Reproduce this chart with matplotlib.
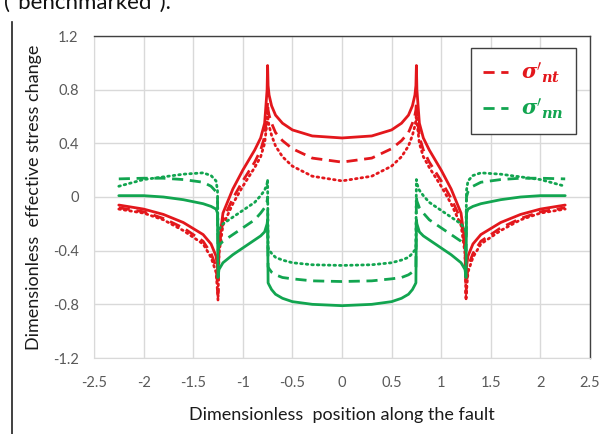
import matplotlib
matplotlib.use("Agg")
import matplotlib.pyplot as plt
from matplotlib.lines import Line2D
import numpy as np

# half profile (x >= 0); the curves are symmetric about x = 0
x_half = [0.0, 0.3, 0.5, 0.6, 0.67, 0.71, 0.735, 0.745, 0.75, 0.755, 0.78, 0.82, 0.88,
          1.0, 1.1, 1.2, 1.24, 1.25, 1.255, 1.27, 1.32, 1.4, 1.6, 1.8, 2.0, 2.25]

nt_solid = [0.44, 0.455, 0.50, 0.55, 0.61, 0.68, 0.76, 0.83, 0.98, 0.80, 0.55, 0.44, 0.35,
            0.20, 0.06, -0.12, -0.35, -0.60, -0.52, -0.44, -0.35, -0.28, -0.19, -0.13, -0.09, -0.06]
nt_dash = [0.26, 0.29, 0.36, 0.42, 0.48, 0.55, 0.61, 0.65, 0.71, 0.62, 0.45, 0.35, 0.26,
           0.12, -0.01, -0.17, -0.38, -0.72, -0.65, -0.52, -0.42, -0.33, -0.23, -0.16, -0.11, -0.08]
nt_dot = [0.12, 0.155, 0.23, 0.30, 0.38, 0.46, 0.53, 0.57, 0.63, 0.56, 0.40, 0.30, 0.22,
          0.08, -0.05, -0.21, -0.42, -0.77, -0.70, -0.56, -0.45, -0.35, -0.25, -0.17, -0.12, -0.09]

nn_solid = [-0.81, -0.80, -0.78, -0.755, -0.725, -0.69, -0.655, -0.64, -0.17, -0.20, -0.26, -0.29, -0.32,
            -0.38, -0.43, -0.49, -0.54, -0.60, -0.12, -0.09, -0.07, -0.05, -0.02, 0.0, 0.01, 0.01]
nn_dash = [-0.63, -0.625, -0.61, -0.60, -0.58, -0.56, -0.535, -0.52, 0.0, -0.03, -0.08, -0.12, -0.17,
           -0.23, -0.28, -0.33, -0.36, -0.40, 0.0, 0.04, 0.08, 0.11, 0.13, 0.14, 0.14, 0.135]
nn_dot = [-0.51, -0.505, -0.49, -0.47, -0.45, -0.42, -0.395, -0.38, 0.13, 0.10, 0.05, 0.01, -0.04,
          -0.10, -0.15, -0.20, -0.24, -0.28, 0.05, 0.12, 0.16, 0.18, 0.17, 0.15, 0.13, 0.08]

RED = "#e3171c"
GREEN = "#12a550"
DASH = (0, (4, 2.4))
DOT = (0, (0.6, 1.4))


def mirror(xh, yh):
    xh = np.asarray(xh)
    yh = np.asarray(yh)
    x = np.concatenate([-xh[::-1], xh[1:]])
    y = np.concatenate([yh[::-1], yh[1:]])
    return x, y


plt.rcParams["font.family"] = ["Lato", "DejaVu Sans"]
plt.rcParams["mathtext.fontset"] = "dejavuserif"

fig = plt.figure(figsize=(6.07, 4.34), dpi=100)
W, H = 607, 434
ax = fig.add_axes([94 / W, 1 - 358 / H, (590 - 94) / W, (358 - 36) / H])

styles = [
    (nt_solid, RED, "-"), (nt_dash, RED, DASH), (nt_dot, RED, DOT),
    (nn_solid, GREEN, "-"), (nn_dash, GREEN, DASH), (nn_dot, GREEN, DOT),
]
for yh, col, ls in styles:
    x, y = mirror(x_half, yh)
    ax.plot(x, y, color=col, linestyle=ls, linewidth=2.0, solid_capstyle="round",
            dash_capstyle="round" if ls is DOT else "butt")

ax.set_xlim(-2.5, 2.5)
ax.set_ylim(-1.2, 1.2)
ax.set_xticks(np.arange(-2.5, 2.51, 0.5))
ax.set_xticklabels(["-2.5", "-2", "-1.5", "-1", "-0.5", "0", "0.5", "1", "1.5", "2", "2.5"])
ax.set_yticks(np.arange(-1.2, 1.21, 0.4))
ax.set_yticklabels(["-1.2", "-0.8", "-0.4", "0", "0.4", "0.8", "1.2"])
ax.tick_params(length=0, labelsize=10.5, labelcolor="#595959")
ax.tick_params(axis="x", pad=13)
ax.tick_params(axis="y", pad=11)
ax.grid(True, color="#d9d9d9", linewidth=1.0)
ax.set_axisbelow(True)
for side in ["left", "bottom"]:
    ax.spines[side].set_color("#d9d9d9")
for side in ["top", "right"]:
    ax.spines[side].set_color("#404040")
    ax.spines[side].set_linewidth(1.0)

ax.set_xlabel("Dimensionless  position along the fault", fontsize=13, color="#1a1a1a", labelpad=12)
ax.set_ylabel("Dimensionless  effective stress change", fontsize=13, color="#1a1a1a", labelpad=8)

handles = [Line2D([], [], color=RED, linestyle=DASH, linewidth=2.0),
           Line2D([], [], color=GREEN, linestyle=DASH, linewidth=2.0)]
labels = [r"$\mathbfit{\sigma}'_{\mathbfit{nt}}$", r"$\mathbfit{\sigma}'_{\mathbfit{nn}}$"]
leg = ax.legend(handles, labels, loc="upper right", bbox_to_anchor=(0.972, 0.963),
                borderaxespad=0, fontsize=15, handlelength=1.2, handletextpad=0.6,
                labelspacing=0.55, borderpad=0.6,
                fancybox=False, framealpha=1, edgecolor="#404040")
leg.get_frame().set_linewidth(1.0)
for txt, col in zip(leg.get_texts(), [RED, GREEN]):
    txt.set_color(col)

# screenshot remnants: left border of the page frame and the cut-off sentence above
fig.add_artist(Line2D([12 / W, 12 / W], [0, 1 - 22 / H], color="#202020", linewidth=1.2))
fig.text(4 / W, 1 - 9 / H, "(\u201cbenchmarked\u201d).", fontsize=16, va="baseline",
         color="#111111")

fig.savefig("out.png", dpi=100)
